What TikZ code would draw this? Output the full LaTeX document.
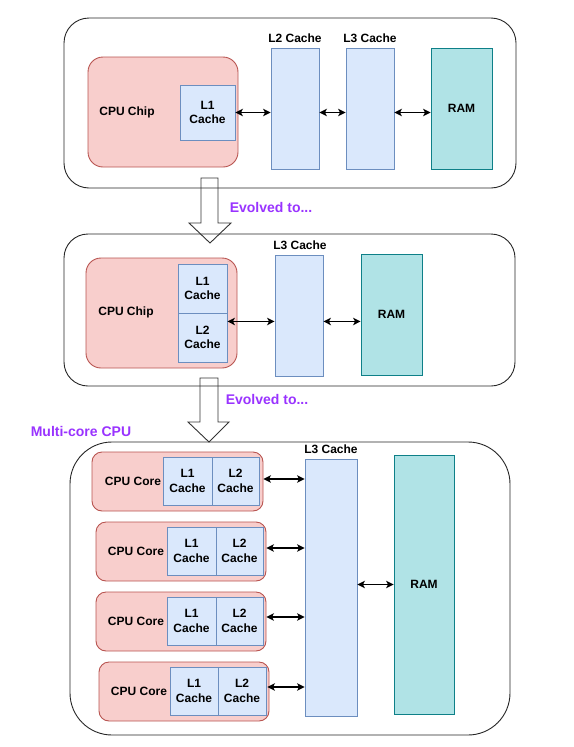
\documentclass[tikz,border=0pt]{standalone}
\usepackage{fontspec}
\setmainfont{Liberation Sans}
\usetikzlibrary{arrows.meta}
\definecolor{redfill}{HTML}{F8CECC}
\definecolor{redline}{HTML}{B85450}
\definecolor{bluefill}{HTML}{DAE8FC}
\definecolor{blueline}{HTML}{6C8EBF}
\definecolor{ramfill}{HTML}{B0E3E6}
\definecolor{ramline}{HTML}{0E8088}
\definecolor{purp}{HTML}{9933FF}
\tikzset{
  outerbox/.style={draw=black!85, line width=0.9pt, rounded corners=#1, inner sep=0pt},
  chipbox/.style={draw=redline, fill=redfill, line width=0.9pt, rounded corners=#1, inner sep=0pt},
  cachebox/.style={draw=blueline, fill=bluefill, line width=0.9pt, inner sep=0pt, align=center,
    font=\fontsize{12}{14.5}\selectfont\bfseries},
  rambox/.style={draw=ramline, fill=ramfill, line width=0.9pt, inner sep=0pt,
    font=\fontsize{12}{14.5}\selectfont\bfseries},
  lbl/.style={inner sep=0pt, font=\fontsize{12}{14.5}\selectfont\bfseries},
  purplbl/.style={inner sep=0pt, text=purp, font=\fontsize{14}{16}\selectfont\bfseries},
  conn/.style={line width=1.1pt, {Stealth[length=7.5pt,width=7.5pt,inset=2pt]}-{Stealth[length=7.5pt,width=7.5pt,inset=2pt]}},
  blockarrow/.style={draw=black!80, line width=0.9pt, line join=miter},
  sz/.style 2 args={minimum width=#1pt, minimum height=#2pt}
}
\begin{document}
\begin{tikzpicture}[x=1pt,y=-1pt]
\useasboundingbox (0,0) rectangle (573,747);

% ---------- Stage 1 ----------
\node[outerbox=25pt, sz={452}{170}] (box1) at (290,103) {};
\node[chipbox=15pt, sz={150}{110}] (cpu1) at (163,112) {};
\node[lbl] (cpu1t) at (127,112) {CPU Chip};
\node[cachebox, sz={55}{55}] (l1a) at (207.5,112.5) {L1\\Cache};
\node[cachebox, sz={48}{121}] (l2a) at (295,108.5) {};
\node[cachebox, sz={48}{121}] (l3a) at (370,108.5) {};
\node[rambox, sz={61}{121}] (rama) at (461.5,108.5) {RAM};
\node[lbl] (l2at) at (295,38) {L2 Cache};
\node[lbl] (l3at) at (370,38) {L3 Cache};
\draw[conn] (l1a.east) -- (l2a.west |- l1a.east);
\draw[conn] (l2a.east |- l1a.east) -- (l3a.west |- l1a.east);
\draw[conn] (l3a.east |- l1a.east) -- (rama.west |- l1a.east);

% block arrow 1
\draw[blockarrow] (201,178) -- (218,178) -- (218,223) -- (231,223) -- (210,243)
  -- (189,223) -- (201,223) -- cycle;
\node[purplbl] (evo1) at (271,207) {Evolved to...};

% ---------- Stage 2 ----------
\node[outerbox=24pt, sz={451}{152}] (box2) at (289.5,310) {};
\node[chipbox=15pt, sz={151}{110}] (cpu2) at (161.5,313) {};
\node[lbl] (cpu2t) at (126,312) {CPU Chip};
\node[cachebox, sz={49}{49}] (l1b) at (202.5,288.5) {L1\\Cache};
\node[cachebox, sz={49}{49}] (l2b) at (202.5,337.5) {L2\\Cache};
\node[cachebox, sz={48}{121}] (l3b) at (299,315.5) {};
\node[rambox, sz={61}{121}] (ramb) at (391.5,314.5) {RAM};
\node[lbl] (l3bt) at (300,245) {L3 Cache};
\coordinate (b2y) at ([yshift=-8pt]l1b.south east);
\draw[conn] (b2y) -- (l3b.west |- b2y);
\draw[conn] (l3b.east |- b2y) -- (ramb.west |- b2y);

% block arrow 2
\draw[blockarrow] (200,378) -- (218,378) -- (218,422) -- (229,422) -- (209,442)
  -- (188,422) -- (200,422) -- cycle;
\node[purplbl] (evo2) at (267,399) {Evolved to...};
\node[purplbl] (multi) at (81,431) {Multi-core CPU};

% ---------- Stage 3 ----------
\node[outerbox=42pt, sz={440}{293}] (box3) at (290,588.5) {};

\node[chipbox=10pt, sz={171}{59}] (core1) at (177.5,481.5) {};
\node[lbl] (core1t) at (133,481) {CPU Core};
\node[cachebox, sz={49}{48}] (c1l1) at (187.5,481) {L1\\Cache};
\node[cachebox, sz={47}{48}] (c1l2) at (235.5,481) {L2\\Cache};

\node[chipbox=10pt, sz={170}{59}] (core2) at (181,551.5) {};
\node[lbl] (core2t) at (136,551) {CPU Core};
\node[cachebox, sz={49}{48}] (c2l1) at (191.5,551) {L1\\Cache};
\node[cachebox, sz={47}{48}] (c2l2) at (239.5,551) {L2\\Cache};

\node[chipbox=10pt, sz={170}{59}] (core3) at (181,621.5) {};
\node[lbl] (core3t) at (136,621) {CPU Core};
\node[cachebox, sz={49}{48}] (c3l1) at (191.5,621) {L1\\Cache};
\node[cachebox, sz={47}{48}] (c3l2) at (239.5,621) {L2\\Cache};

\node[chipbox=10pt, sz={170}{59}] (core4) at (184,691.5) {};
\node[lbl] (core4t) at (139,691) {CPU Core};
\node[cachebox, sz={48}{48}] (c4l1) at (194,691) {L1\\Cache};
\node[cachebox, sz={48}{48}] (c4l2) at (242,691) {L2\\Cache};

\node[cachebox, sz={52}{257}] (l3c) at (331,587.5) {};
\node[rambox, sz={60}{259}] (ramc) at (424,584.5) {RAM};
\node[lbl] (l3ct) at (331,449) {L3 Cache};

\coordinate (k1) at ([yshift=2.5pt]core1.east);
\coordinate (k2) at ([yshift=3.5pt]core2.east);
\coordinate (k3) at ([yshift=4.5pt]core3.east);
\coordinate (k4) at ([xshift=-2pt,yshift=4.5pt]core4.east);
\draw[conn] (k1) -- (l3c.west |- k1);
\draw[conn] (k2) -- (l3c.west |- k2);
\draw[conn] (k3) -- (l3c.west |- k3);
\draw[conn] (k4) -- (l3c.west |- k4);
\draw[conn] (l3c.east |- ramc.center) -- (ramc.west);
\end{tikzpicture}
\end{document}
